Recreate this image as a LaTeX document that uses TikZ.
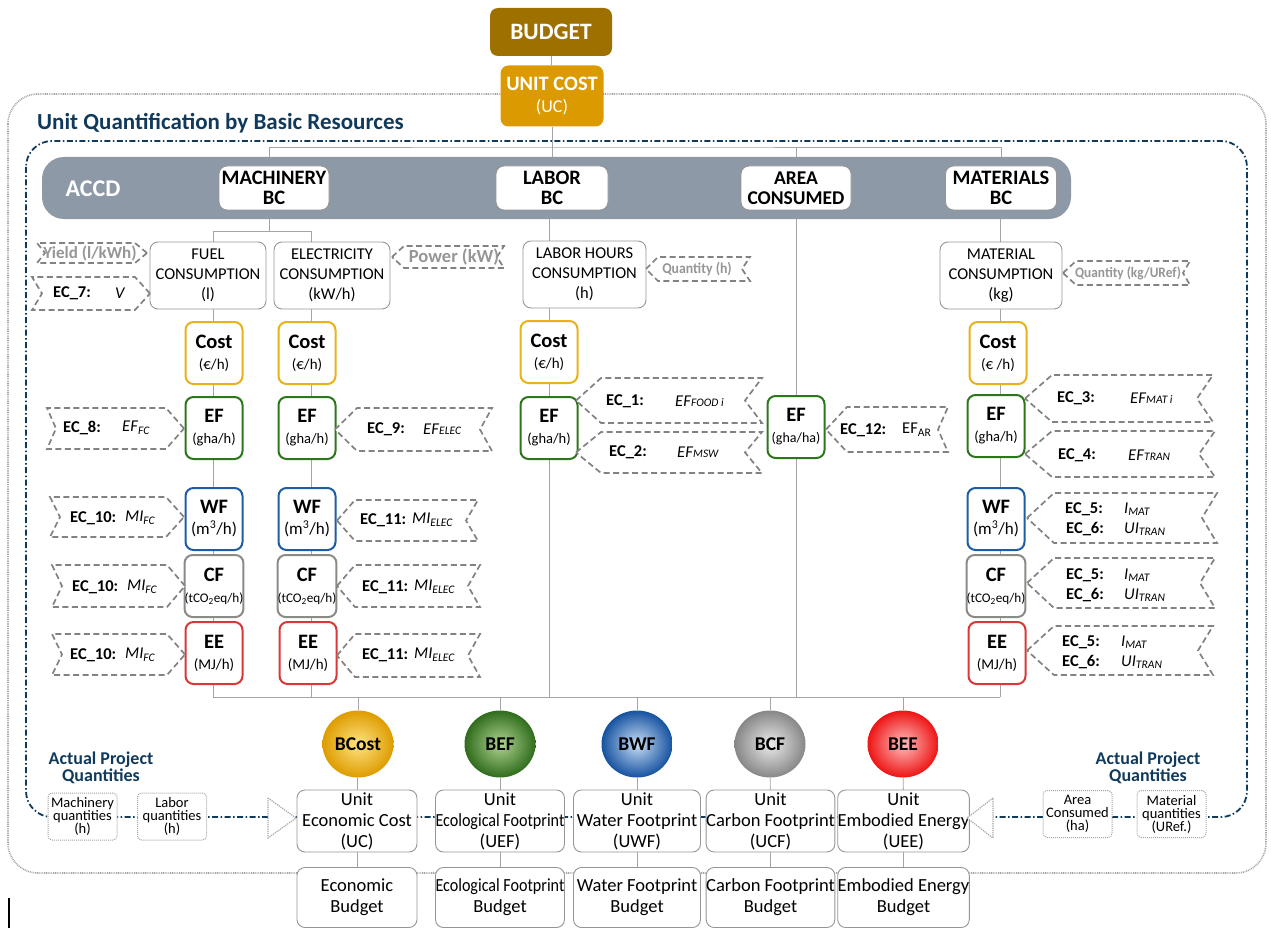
\documentclass[tikz,border=0pt]{standalone}
\usepackage{fontspec}
\setmainfont{Carlito}
\usepackage{graphicx}
\usetikzlibrary{shapes.geometric,backgrounds}

\definecolor{budgetc}{RGB}{158,112,0}
\definecolor{ucc}{RGB}{218,154,0}
\definecolor{navy}{RGB}{16,58,92}
\definecolor{barc}{RGB}{142,153,168}
\definecolor{costc}{RGB}{232,178,24}
\definecolor{efc}{RGB}{44,118,28}
\definecolor{wfc}{RGB}{30,92,164}
\definecolor{cfc}{RGB}{138,140,132}
\definecolor{eec}{RGB}{218,56,56}
\definecolor{dashg}{RGB}{130,130,130}
\definecolor{lineg}{RGB}{165,165,165}
\definecolor{boxg}{RGB}{150,150,150}
\definecolor{labg}{RGB}{150,150,150}
\definecolor{dotg}{RGB}{165,165,165}

\newcommand{\fs}[2]{\fontsize{#1}{#2}\selectfont}
\newcommand{\lsub}[1]{\textsubscript{\textit{#1}}}
\newcommand{\ssub}[1]{{\fs{11.5}{12}\itshape #1}}
\newcommand{\cbt}[3][15]{{\fs{20.5}{20}\bfseries #2}\\{\fs{#1}{20}#3}}
% chevron: tip x, far x, top y, bottom y, tip depth (signed), notch depth (signed)
\newcommand{\chev}[6]{%
 \draw[ecbox] (#1,{(#3+#4)/2}) -- ({#1+#5},#3) -- (#2,#3) -- ({#2+#6},{(#3+#4)/2}) -- (#2,#4) -- ({#1+#5},#4) -- cycle;}
% text: name, x label, x formula, y, label, formula
\newcommand{\ect}[6]{\node[ectext,anchor=west] (#1) at (#2,#4) {#5};
 \node[ecform,anchor=west] (#1f) at (#3,#4) {#6};}

\begin{document}
\begin{tikzpicture}[x=1pt,y=-1pt,
  wbox/.style={draw=boxg, line width=0.9pt, fill=white, rounded corners=8pt, align=center, inner sep=0pt},
  bcbox/.style={wbox, minimum width=110pt, minimum height=44pt, font=\bfseries\fs{20.5}{20}},
  consbox/.style={wbox, minimum height=67pt, font=\fs{16.5}{20}},
  cbox/.style={draw, line width=2pt, fill=white, rounded corners=8pt, minimum width=57pt, minimum height=62pt, inner sep=0pt, align=center, font=\fs{13}{21}},
  conn/.style={draw=lineg, line width=0.9pt},
  ecbox/.style={draw=dashg, line width=1.7pt, dash pattern=on 6pt off 3.5pt, fill=white},
  ectext/.style={font=\bfseries\fs{16.5}{18}, inner sep=0pt},
  ecform/.style={font=\fs{16.5}{18}, inner sep=0pt},
  labtext/.style={font=\bfseries\fs{17}{17}, text=labg, inner sep=0pt},
  qbox/.style={draw=dotg, densely dotted, line width=1pt, fill=white, rounded corners=4pt, minimum width=69pt, minimum height=47pt, inner sep=0pt, align=center, font=\fs{14.5}{13}},
  ubox/.style={wbox, minimum height=62pt, font=\fs{18.5}{21}},
  bgbox/.style={wbox, minimum height=60pt, font=\fs{18.5}{21}},
  circ/.style={ellipse, minimum width=71pt, minimum height=67pt, inner sep=0pt, font=\bfseries\fs{19.5}{20}},
  apq/.style={font=\bfseries\fs{18}{12.5}, text=navy, align=center, inner sep=0pt}
]
\useasboundingbox (0,0) rectangle (1271,928);

% ---------- top
\node[fill=budgetc, rounded corners=8pt, minimum width=122pt, minimum height=48pt, text=white, font=\bfseries\fs{23.5}{20}] (budget) at (551,32) {BUDGET};
\node[fill=ucc, rounded corners=8pt, minimum width=103pt, minimum height=61pt, text=white, align=center, font=\fs{18}{22}, inner sep=0pt] (unitcost) at (552,96) {{\bfseries\fs{20.5}{22}UNIT COST}\\(UC)};
\node[anchor=base west, font=\bfseries\fs{23}{23}, text=navy, inner sep=0pt] (title) at (37,130) {Unit Quantification by Basic Resources};

% ---------- ACCD bar
\node[fill=barc, rounded corners=22pt, minimum width=1029pt, minimum height=62pt, inner sep=0pt] (accdbar) at (556.5,188) {};
\node[text=white, font=\bfseries\fs{24}{24}] (accd) at (93,189) {ACCD};
\node[bcbox] (mach) at (274,188) {MACHINERY\\BC};
\node[bcbox, minimum width=112pt] (labor) at (552,188) {LABOR\\BC};
\node[bcbox, font=\bfseries\fs{19.5}{20}] (area) at (796,188) {AREA\\CONSUMED};
\node[bcbox, minimum width=111pt] (mat) at (1001,188) {MATERIALS\\BC};

% ---------- consumption boxes
\node[consbox, minimum width=116pt] (fuel) at (208,275.5) {FUEL\\CONSUMPTION\\(l)};
\node[consbox, minimum width=116pt] (elec) at (332,275.5) {ELECTRICITY\\CONSUMPTION\\(kW/h)};
\node[consbox, minimum width=123pt] (lhours) at (584.5,274.5) {LABOR HOURS\\CONSUMPTION\\(h)};
\node[consbox, minimum width=122pt] (mcons) at (1001,275.5) {MATERIAL\\CONSUMPTION\\(kg)};

% ---------- indicator boxes
\node[cbox, draw=costc] (cost1) at (214,353) {\cbt{Cost}{(€/h)}};
\node[cbox, draw=costc] (cost2) at (307,353) {\cbt{Cost}{(€/h)}};
\node[cbox, draw=costc] (cost3) at (549,352) {\cbt{Cost}{(€/h)}};
\node[cbox, draw=costc] (cost4) at (998,353) {\cbt{Cost}{(€ /h)}};
\node[cbox, draw=efc] (ef1) at (214,428) {\cbt[14.5]{EF}{(gha/h)}};
\node[cbox, draw=efc] (ef2) at (307,428) {\cbt[14.5]{EF}{(gha/h)}};
\node[cbox, draw=efc] (ef3) at (549,428) {\cbt[14.5]{EF}{(gha/h)}};
\node[cbox, draw=efc] (ef4) at (796,427) {\cbt[14]{EF}{(gha/ha)}};
\node[cbox, draw=efc] (ef5) at (996,426) {\cbt[14.5]{EF}{(gha/h)}};
\node[cbox, draw=wfc] (wf1) at (214,519) {\cbt[17]{WF}{(m\textsuperscript{3}/h)}};
\node[cbox, draw=wfc] (wf2) at (307,519) {\cbt[17]{WF}{(m\textsuperscript{3}/h)}};
\node[cbox, draw=wfc] (wf5) at (996,519) {\cbt[17]{WF}{(m\textsuperscript{3}/h)}};
\node[cbox, draw=cfc] (cf1) at (214,586) {\cbt[13.2]{CF}{(tCO\textsubscript{2}eq/h)}};
\node[cbox, draw=cfc] (cf2) at (307,586) {\cbt[13.2]{CF}{(tCO\textsubscript{2}eq/h)}};
\node[cbox, draw=cfc] (cf5) at (996,586) {\cbt[13.2]{CF}{(tCO\textsubscript{2}eq/h)}};
\node[cbox, draw=eec] (ee1) at (214,653) {\cbt{EE}{(MJ/h)}};
\node[cbox, draw=eec] (ee2) at (308,653) {\cbt{EE}{(MJ/h)}};
\node[cbox, draw=eec] (ee5) at (997,653) {\cbt{EE}{(MJ/h)}};

% ---------- chevrons, left column
\chev{147}{37}{243}{263}{-12}{8}
\node[labtext] (yield) at (90,253) {Yield (l/kWh)};
\chev{150}{32}{277}{310}{-15}{10}
\ect{ec7}{53}{115}{293}{EC\_7:}{\textit{V}}
\chev{184}{47}{408}{449}{-18}{9}
\ect{ec8}{63}{122}{428}{EC\_8:}{\textit{EF}\lsub{FC}}
\chev{184}{50}{497}{537}{-18}{10}
\ect{ec10a}{70}{125}{518}{EC\_10:}{\textit{MI}\lsub{FC}}
\chev{185}{52}{565}{607}{-18}{10}
\ect{ec10b}{72}{127}{587}{EC\_10:}{\textit{MI}\lsub{FC}}
\chev{185}{52}{634}{675}{-18}{10}
\ect{ec10c}{70}{125}{655}{EC\_10:}{\textit{MI}\lsub{FC}}

% ---------- chevrons, electricity
\chev{392}{504}{246}{268}{12}{-7}
\node[labtext, font=\bfseries\fs{18.5}{18}] (power) at (454,257) {Power (kW)};
\chev{335}{492}{408}{451}{22}{-12}
\ect{ec9}{367}{423}{429}{EC\_9:}{\textit{EF}\ssub{ELEC}}
\chev{337}{478}{500}{541}{18}{-12}
\ect{ec11a}{360}{412}{520}{EC\_11:}{\textit{MI}\lsub{ELEC}}
\chev{337}{480}{565}{607}{18}{-12}
\ect{ec11b}{362}{414}{587}{EC\_11:}{\textit{MI}\lsub{ELEC}}
\chev{337}{480}{634}{677}{18}{-12}
\ect{ec11c}{362}{414}{655}{EC\_11:}{\textit{MI}\lsub{ELEC}}

% ---------- chevrons, labor and area
\chev{646}{750}{257}{281}{12}{-8}
\node[labtext, font=\bfseries\fs{15}{15}] (qh) at (697,269) {\scalebox{0.92}[1]{Quantity (h)}};
\chev{576}{762}{378}{423}{25}{-17}
\ect{ec1}{606}{675}{401}{EC\_1:}{\textit{EF}\ssub{FOOD i}}
\chev{576}{762}{432}{473}{25}{-17}
\ect{ec2}{609}{677}{452}{EC\_2:}{\textit{EF}\ssub{MSW}}
\chev{826}{948}{407}{452}{21}{-10}
\ect{ec12}{840}{902}{430}{EC\_12:}{EF\textsubscript{AR}}

% ---------- chevrons, materials
\chev{1063}{1190}{261}{285}{13}{-7}
\node[labtext, font=\bfseries\fs{14.5}{15}] (qkg) at (1128,273) {\scalebox{0.92}[1]{Quantity (kg/URef)}};
\chev{1025}{1213}{375}{422}{27}{-16}
\ect{ec3}{1057}{1130}{398}{EC\_3:}{\textit{EF}\ssub{MAT i}}
\chev{1025}{1215}{431}{477}{27}{-16}
\ect{ec4}{1058}{1128}{455}{EC\_4:}{\textit{EF}\ssub{TRAN}}
\chev{1027}{1217}{493}{543}{27}{-15}
\ect{ec5a}{1065}{1124}{509}{EC\_5:}{\textit{I}\lsub{MAT}}
\ect{ec6a}{1066}{1124}{529}{EC\_6:}{\textit{UI}\lsub{TRAN}}
\chev{1027}{1215}{558}{608}{27}{-15}
\ect{ec5b}{1066}{1124}{575}{EC\_5:}{\textit{I}\lsub{MAT}}
\ect{ec6b}{1066}{1124}{595}{EC\_6:}{\textit{UI}\lsub{TRAN}}
\chev{1027}{1213}{626}{675}{27}{-15}
\ect{ec5c}{1062}{1121}{642}{EC\_5:}{\textit{I}\lsub{MAT}}
\ect{ec6c}{1062}{1121}{662}{EC\_6:}{\textit{UI}\lsub{TRAN}}

% ---------- bottom circles
\node[circ, inner color={rgb,255:red,255;green,228;blue,130}, outer color={rgb,255:red,222;green,156;blue,0}] (circcost) at (358,744) {BCost};
\node[circ, inner color={rgb,255:red,175;green,212;blue,145}, outer color={rgb,255:red,48;green,108;blue,28}] (circef) at (500,744) {BEF};
\node[circ, inner color={rgb,255:red,200;green,222;blue,245}, outer color={rgb,255:red,22;green,82;blue,160}] (circwf) at (637,744) {BWF};
\node[circ, inner color={rgb,255:red,235;green,235;blue,235}, outer color={rgb,255:red,135;green,135;blue,135}] (circcf) at (770,744) {BCF};
\node[circ, inner color={rgb,255:red,255;green,190;blue,190}, outer color={rgb,255:red,238;green,20;blue,20}] (circee) at (903,744) {BEE};

% ---------- unit and budget boxes
\node[ubox, minimum width=120pt] (uecon) at (357,821) {Unit\\Economic Cost\\(UC)};
\node[ubox, minimum width=128pt] (uef) at (500,821) {Unit\\\scalebox{0.87}[1]{Ecological Footprint}\\(UEF)};
\node[ubox, minimum width=127pt] (uwf) at (637,821) {Unit\\Water Footprint\\(UWF)};
\node[ubox, minimum width=127pt] (ucf) at (770.5,821) {Unit\\Carbon Footprint\\(UCF)};
\node[ubox, minimum width=128pt] (uee) at (903.5,821) {Unit\\Embodied Energy\\(UEE)};
\node[bgbox, minimum width=120pt] (bgecon) at (357,897.5) {Economic\\Budget};
\node[bgbox, minimum width=128pt] (bgef) at (500,897.5) {\scalebox{0.87}[1]{Ecological Footprint}\\Budget};
\node[bgbox, minimum width=127pt] (bgwf) at (637,897.5) {Water Footprint\\Budget};
\node[bgbox, minimum width=127pt] (bgcf) at (770.5,897.5) {Carbon Footprint\\Budget};
\node[bgbox, minimum width=128pt] (bgee) at (903.5,897.5) {Embodied Energy\\Budget};

% ---------- actual project quantities
\node[apq] (apql) at (101,768) {Actual Project\\Quantities};
\node[apq] (apqr) at (1148,768) {Actual Project\\Quantities};
\node[qbox] (qmach) at (82.5,816.5) {Machinery\\quantities\\(h)};
\node[qbox] (qlab) at (172,816.5) {Labor\\quantities\\(h)};
\node[qbox] (qarea) at (1077.5,814) {Area\\Consumed\\(ha)};
\node[qbox] (qmat) at (1171.5,814) {Material\\quantities\\(URef.)};
\draw[dotg, densely dotted, line width=1.2pt, fill=white] (268,798) -- (296,818) -- (268,838) -- cycle;
\draw[dotg, densely dotted, line width=1.2pt, fill=white] (993,798) -- (967,818) -- (993,838) -- cycle;

% ---------- background: frames and connectors
\begin{pgfonlayer}{background}
\draw[dotg, line width=1.6pt, dash pattern=on 0.9pt off 0.9pt, rounded corners=30pt] (8,94) rectangle (1266,873);
\draw[navy, line width=1.8pt, dash pattern=on 6pt off 2.5pt on 1.5pt off 2.5pt, rounded corners=26pt] (26,141) rectangle (1247,817);
\coordinate (topbus) at (552,147);
\draw[conn] (budget) -- (unitcost);
\draw[conn] (unitcost.south) -- (labor.north);
\draw[conn] ([xshift=-5pt]mach.north) |- (topbus) -| (mat.north);
\draw[conn] (area.north) -- (area.north |- topbus);
\coordinate (c1top) at (213,231);
\coordinate (c2top) at (311,231);
\coordinate (bus1) at (213,697);
\coordinate (bus2) at (311,697);
\coordinate (bus5) at (1000,697);
\draw[conn] ([xshift=-5pt]mach.south) -- ([xshift=-5pt]mach.south |- c1top);
\draw[conn] (c1top) -- (c2top);
\draw[conn] (c1top) -- (bus1);
\draw[conn] (c2top) -- (bus2);
\draw[conn] (labor.south -| cost3) -- (cost3 |- bus1);
\draw[conn] (area.south) -- (area.south |- bus1);
\draw[conn] (mat.south -| bus5) -- (bus5);
\draw[conn] (bus1) -- (bus5);
\foreach \c/\u/\b in {circcost/uecon/bgecon, circef/uef/bgef, circwf/uwf/bgwf, circcf/ucf/bgcf, circee/uee/bgee}{
  \draw[conn] (\c.north |- bus1) -- (\c.north);
  \draw[conn] (\c) -- (\u);
  \draw[conn] (\u) -- (\b);
}
\end{pgfonlayer}
\draw[black, line width=1.2pt] (9,898) -- (9,928);
\end{tikzpicture}
\end{document}
